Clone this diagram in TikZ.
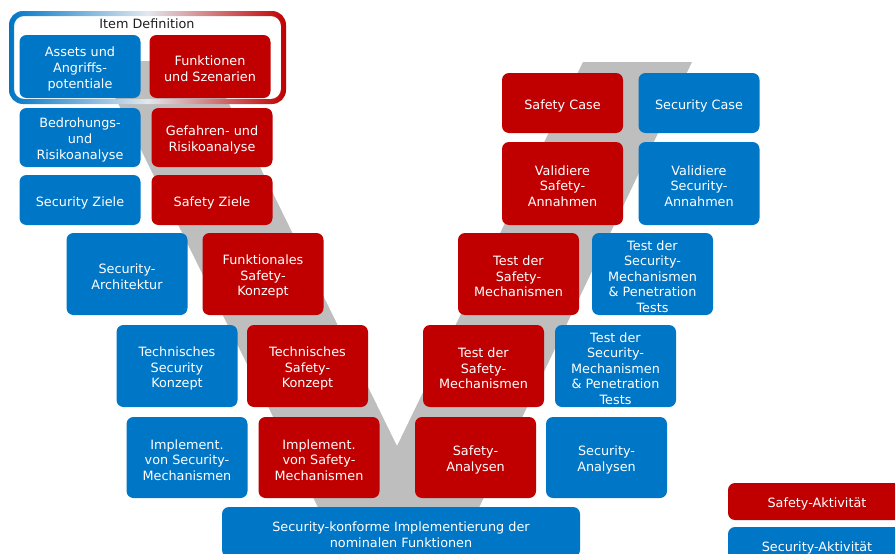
\documentclass[tikz,border=0pt]{standalone}
\usepackage{fontspec}
\setmainfont{DejaVu Sans}
\definecolor{safetyred}{RGB}{192,0,0}
\definecolor{securityblue}{RGB}{0,118,198}
\definecolor{vgray}{RGB}{190,190,190}
\definecolor{framemid}{RGB}{226,232,238}
\definecolor{labeltext}{RGB}{30,30,30}
\tikzset{
  activity/.style={rounded corners=7pt, inner sep=0pt},
  safetybox/.style={activity, fill=safetyred},
  securitybox/.style={activity, fill=securityblue},
  activitytext/.style={text=white, align=center, inner sep=0pt,
    font=\fontsize{12.8}{15.6}\selectfont, yshift=-2.5pt},
}
% \activitybox{style}{name}{centre}{width}{height}{text}
\newcommand\activitybox[6]{%
  \node[#1, minimum width=#4, minimum height=#5] (#2) at (#3) {};
  \node[activitytext] (#2-text) at (#2.center) {#6};
}
\begin{document}
\begin{tikzpicture}[x=1pt, y=-1pt]
\useasboundingbox (0,0) rectangle (895,554);

% grey V of the development process
\fill[vgray] (97,61) -- (208,61) -- (397,446) -- (583,62) -- (692,62)
  -- (454,560) -- (344,560) -- cycle;

% item definition frame (blue-to-red ring)
\shade[left color=securityblue, right color=safetyred, middle color=framemid, even odd rule]
  [rounded corners=14pt] (9,11) rectangle (286,104)
  [rounded corners=10pt] (14,16) rectangle (281,99);
\node[text=labeltext, font=\fontsize{12.8}{15}\selectfont, inner sep=0pt] (itemdef) at (147,23.5) {Item Definition};

% left branch
\activitybox{securitybox}{assets}{80,66.5}{121pt}{63pt}{Assets und\\Angriffs-\\potentiale}
\activitybox{safetybox}{funktionen}{210,66.5}{121pt}{63pt}{Funktionen\\und Szenarien}
\activitybox{securitybox}{bedrohung}{80,137.5}{121pt}{59pt}{Bedrohungs-\\und\\Risikoanalyse}
\activitybox{safetybox}{gefahren}{212,137.5}{121pt}{59pt}{Gefahren- und\\Risikoanalyse}
\activitybox{securitybox}{secziele}{80,200}{121pt}{50pt}{Security Ziele}
\activitybox{safetybox}{safziele}{212,200}{121pt}{50pt}{Safety Ziele}
\activitybox{securitybox}{secarch}{127,274}{121pt}{82pt}{Security-\\Architektur}
\activitybox{safetybox}{funkkonzept}{263,274}{121pt}{82pt}{Funktionales\\Safety-\\Konzept}
\activitybox{securitybox}{techsec}{177,366}{121pt}{82pt}{Technisches\\Security\\Konzept}
\activitybox{safetybox}{techsaf}{307.5,366}{121pt}{82pt}{Technisches\\Safety-\\Konzept}
\activitybox{securitybox}{implsec}{187,457.5}{121pt}{81pt}{Implement.\\von Security-\\Mechanismen}
\activitybox{safetybox}{implsaf}{319,457.5}{121pt}{81pt}{Implement.\\von Safety-\\Mechanismen}

% bottom
\activitybox{securitybox}{nominal}{401,532}{358pt}{50pt}{Security-konforme Implementierung der\\nominalen Funktionen}

% right branch
\activitybox{safetybox}{safanalyse}{475.5,457.5}{121pt}{81pt}{Safety-\\Analysen}
\activitybox{securitybox}{secanalyse}{606.5,457.5}{121pt}{81pt}{Security-\\Analysen}
\activitybox{safetybox}{testsafa}{483.5,366}{121pt}{82pt}{Test der\\Safety-\\Mechanismen}
\activitybox{securitybox}{testseca}{615.5,366}{121pt}{82pt}{Test der\\Security-\\Mechanismen\\\& Penetration\\Tests}
\activitybox{safetybox}{testsafb}{518.5,274}{121pt}{82pt}{Test der\\Safety-\\Mechanismen}
\activitybox{securitybox}{testsecb}{652.5,274}{121pt}{82pt}{Test der\\Security-\\Mechanismen\\\& Penetration\\Tests}
\activitybox{safetybox}{valsaf}{562.5,183.5}{121pt}{83pt}{Validiere\\Safety-\\Annahmen}
\activitybox{securitybox}{valsec}{699,183.5}{121pt}{83pt}{Validiere\\Security-\\Annahmen}
\activitybox{safetybox}{safcase}{562.5,103}{121pt}{60pt}{Safety Case}
\activitybox{securitybox}{seccase}{699,103}{121pt}{60pt}{Security Case}

% legend
\activitybox{safetybox}{legsaf}{817,501.5}{178pt}{37pt}{Safety-Aktivität}
\activitybox{securitybox}{legsec}{817,545.5}{178pt}{37pt}{Security-Aktivität}
\end{tikzpicture}
\end{document}
